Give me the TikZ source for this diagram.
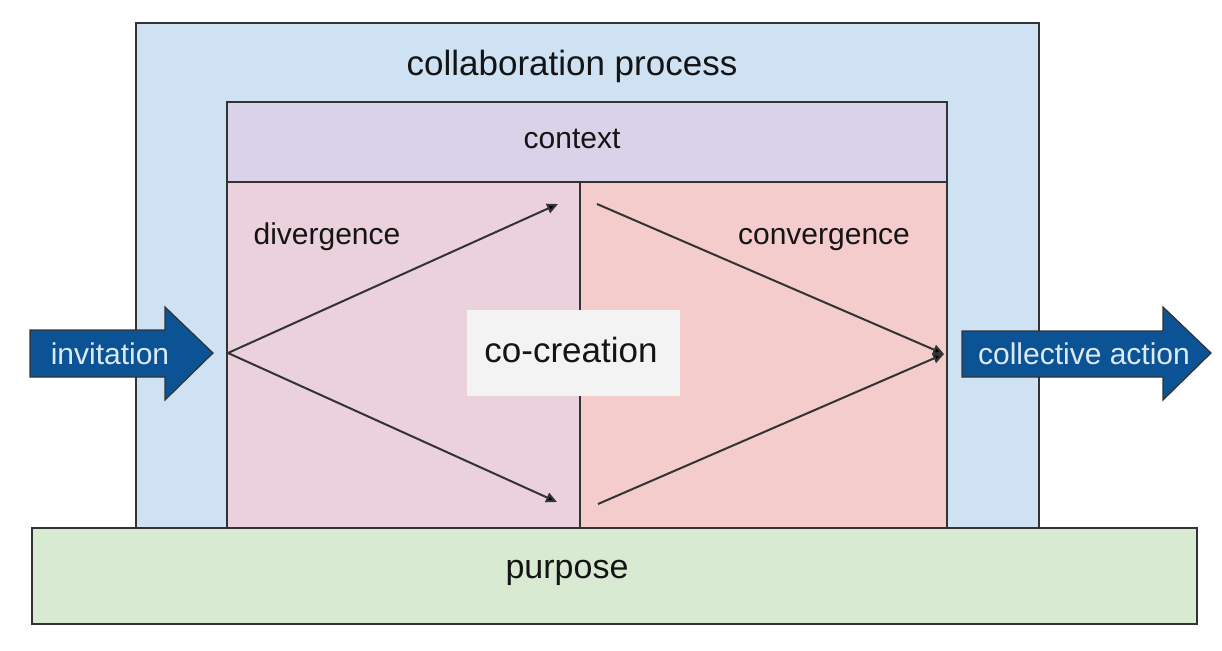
\documentclass[tikz,border=0pt]{standalone}
\usepackage{fontspec}
\setmainfont{Liberation Sans}
\usetikzlibrary{arrows.meta}
\definecolor{procblue}{HTML}{CFE2F3}
\definecolor{ctxlav}{HTML}{D9D2E9}
\definecolor{divpink}{HTML}{EAD1DC}
\definecolor{convpink}{HTML}{F4CCCC}
\definecolor{purpgreen}{HTML}{D9EAD3}
\definecolor{cocreate}{HTML}{F3F3F3}
\definecolor{arrowblue}{HTML}{0B5394}
\definecolor{arrowtext}{HTML}{DCE9F6}
\definecolor{edgegray}{HTML}{333333}
\begin{document}
\begin{tikzpicture}[x=1pt,y=-1pt,
  box/.style={draw=edgegray, line width=2pt, inner sep=0pt, anchor=north west},
  lbl/.style={inner sep=0pt, anchor=base, text=black!92, font=\fontsize{30}{36}\selectfont},
  biglbl/.style={lbl, font=\fontsize{35}{42}\selectfont},
  flow/.style={draw=edgegray, line width=2pt, -{Triangle[length=11pt,width=10pt,fill=black]}},
  bigarrow/.style={fill=arrowblue, draw=black!80, line width=1.2pt, line join=miter},
  arrlbl/.style={inner sep=0pt, anchor=base, text=arrowtext, font=\fontsize{30}{36}\selectfont}
]
\useasboundingbox (0,0) rectangle (1222,650);

% collaboration process
\node[box, fill=procblue, minimum width=903pt, minimum height=506pt] (proc) at (135,22) {};
\node[biglbl] (proclbl) at (572,76) {collaboration process};

% context
\node[box, fill=ctxlav, minimum width=720pt, minimum height=80pt] (ctx) at (226,101) {};
\node[lbl] (ctxlbl) at (572,148) {context};

% divergence / convergence panels
\node[box, fill=divpink, minimum width=353pt, minimum height=346pt] (div) at (226,181) {};
\node[box, fill=convpink, minimum width=367pt, minimum height=346pt] (conv) at (579,181) {};
\node[lbl] (divlbl) at (327,244) {divergence};
\node[lbl] (convlbl) at (824,244) {convergence};

% flow lines
\coordinate (dstart) at (228,353);
\coordinate (dup) at (558,204);
\coordinate (ddown) at (557,502);
\coordinate (cup) at (597,204);
\coordinate (cdown) at (598,504);
\coordinate (cend) at (944,354);
\draw[flow] (dstart) -- (dup);
\draw[flow] (dstart) -- (ddown);
\draw[flow] (cup) -- (cend);
\draw[flow] (cdown) -- (cend);

% co-creation
\node[fill=cocreate, inner sep=0pt, minimum width=213pt, minimum height=86pt, anchor=north west] (cocbox) at (467,310) {};
\node[biglbl] (coclbl) at (571,362) {co-creation};

% purpose
\node[box, fill=purpgreen, minimum width=1165pt, minimum height=96pt] (purp) at (31,527) {};
\node[lbl, font=\fontsize{34}{40}\selectfont] (purplbl) at (567,578) {purpose};

% invitation arrow
\draw[bigarrow] (30,330) -- (165,330) -- (165,307) -- (213,353) -- (165,400) -- (165,377) -- (30,377) -- cycle;
\node[arrlbl] (invlbl) at (110,364) {invitation};

% collective action arrow
\draw[bigarrow] (962,331) -- (1163,331) -- (1163,307) -- (1211,353) -- (1163,400) -- (1163,377) -- (962,377) -- cycle;
\node[arrlbl] (actlbl) at (1084,364) {collective action};
\end{tikzpicture}
\end{document}
